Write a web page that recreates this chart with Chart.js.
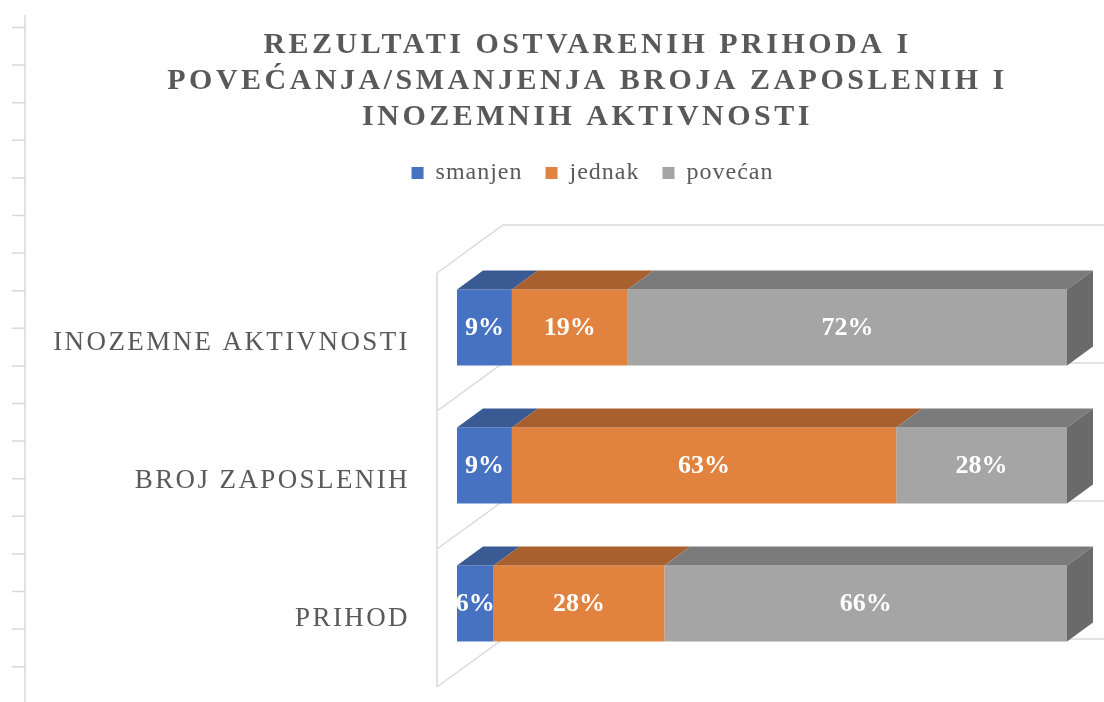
<!DOCTYPE html>
<html lang="hr">
<head>
<meta charset="UTF-8">
<title>Rezultati ostvarenih prihoda</title>
<script src="https://cdn.jsdelivr.net/npm/chart.js@4.4.1/dist/chart.umd.min.js"></script>
<style>
  html, body { margin: 0; padding: 0; background: #fff; overflow: hidden; }
  #wrap { position: relative; width: 1104px; height: 702px; }
</style>
</head>
<body>
<div id="wrap"><canvas id="myChart"></canvas></div>

<script>
// podaci
const categories = ['INOZEMNE AKTIVNOSTI', 'BROJ ZAPOSLENIH', 'PRIHOD'];
const seriesNames = ['smanjen', 'jednak', 'povećan'];
const smanjen = [9, 9, 6];
const jednak = [19, 63, 28];
const povecan = [72, 28, 66];
const titleLines = [
  'REZULTATI OSTVARENIH PRIHODA I',
  'POVEĆANJA/SMANJENJA BROJA ZAPOSLENIH I',
  'INOZEMNIH AKTIVNOSTI'
];

const SERIF = '"Liberation Serif", "Times New Roman", serif';
const TEXT_GRAY = '#595959';
const LINE_GRAY = '#d9d9d9';
const frontColors = ['#4672c1', '#e1823f', '#a5a5a5'];
const topColors = ['#3a5a94', '#a9602f', '#7b7b7b'];
const sideColors = ['#30497a', '#8c4f27', '#6a6a6a'];

// 3D pomaci (dubina stupca, prednja i straznja ravnina)
const BAR_DX = 26, BAR_DY = 19;
const FRONT_DX = -20, FRONT_DY = 14.5;
const BACK_DX = 46, BACK_DY = -33.5;

function poly(ctx, pts, color) {
  ctx.beginPath();
  ctx.moveTo(pts[0][0], pts[0][1]);
  for (let i = 1; i < pts.length; i++) ctx.lineTo(pts[i][0], pts[i][1]);
  ctx.closePath();
  ctx.fillStyle = color;
  ctx.fill();
}

const frame3d = {
  id: 'frame3d',
  beforeDraw(chart) {
    // ravnalo uz lijevi rub
    const ctx = chart.ctx;
    ctx.save();
    ctx.strokeStyle = LINE_GRAY;
    ctx.lineWidth = 1.5;
    ctx.beginPath();
    ctx.moveTo(25, 15);
    ctx.lineTo(25, chart.height);
    for (let y = 27.5; y < chart.height; y += 37.6) {
      ctx.moveTo(12, y);
      ctx.lineTo(25, y);
    }
    ctx.stroke();
    ctx.restore();
  },
  beforeDatasetsDraw(chart) {
    const ctx = chart.ctx;
    const {left, top, bottom} = chart.chartArea;
    const ys = chart.scales.y;
    const edges = [];
    for (let k = 0; k <= categories.length; k++) edges.push(ys.getPixelForValue(k - 0.5));

    ctx.save();
    ctx.strokeStyle = LINE_GRAY;
    ctx.lineWidth = 1.5;
    ctx.beginPath();
    ctx.moveTo(left + FRONT_DX, top + FRONT_DY);
    ctx.lineTo(left + FRONT_DX, bottom + FRONT_DY);
    edges.forEach(e => {
      ctx.moveTo(left + FRONT_DX, e + FRONT_DY);
      ctx.lineTo(left + BACK_DX, e + BACK_DY);
      ctx.lineTo(chart.width, e + BACK_DY);
    });
    ctx.stroke();
    ctx.restore();
  },
  afterDatasetsDraw(chart) {
    const ctx = chart.ctx;
    const n = chart.data.datasets.length;
    ctx.save();
    for (let d = 0; d < n; d++) {
      const meta = chart.getDatasetMeta(d);
      meta.data.forEach((el, j) => {
        const p = el.getProps(['x', 'y', 'base', 'height'], true);
        const x0 = Math.min(p.x, p.base), x1 = Math.max(p.x, p.base);
        const yt = p.y - p.height / 2, yb = p.y + p.height / 2;
        if (x1 - x0 <= 0) return;
        poly(ctx, [[x0, yt], [x1, yt], [x1 + BAR_DX, yt - BAR_DY], [x0 + BAR_DX, yt - BAR_DY]], topColors[d]);
        // bocna strana samo za zadnji segment
        let last = n - 1;
        while (last > 0 && !chart.data.datasets[last].data[j]) last--;
        if (d === last) {
          poly(ctx, [[x1, yt], [x1 + BAR_DX, yt - BAR_DY], [x1 + BAR_DX, yb - BAR_DY], [x1, yb]], sideColors[d]);
        }
      });
    }
    // oznake vrijednosti
    ctx.font = 'bold 26px ' + SERIF;
    ctx.fillStyle = '#ffffff';
    ctx.textAlign = 'center';
    ctx.textBaseline = 'middle';
    for (let d = 0; d < n; d++) {
      const meta = chart.getDatasetMeta(d);
      meta.data.forEach((el, j) => {
        const v = chart.data.datasets[d].data[j];
        if (!v) return;
        const p = el.getProps(['x', 'y', 'base'], true);
        ctx.fillText(v + '%', (p.x + p.base) / 2, p.y + 1);
      });
    }
    ctx.restore();
  }
};

const ctx = document.getElementById('myChart').getContext('2d');

const myChart = new Chart(ctx, {
  type: 'bar',
  data: {
    labels: categories,
    datasets: [
      { label: seriesNames[0], data: smanjen, backgroundColor: frontColors[0] },
      { label: seriesNames[1], data: jednak, backgroundColor: frontColors[1] },
      { label: seriesNames[2], data: povecan, backgroundColor: frontColors[2] }
    ]
  },
  options: {
    indexAxis: 'y',
    responsive: true,
    maintainAspectRatio: false,
    animation: false,
    categoryPercentage: 0.55,
    barPercentage: 1,
    borderWidth: 0,
    layout: { padding: { top: 0, left: 108, right: 37, bottom: 29.5 } },
    scales: {
      x: {
        position: 'top',
        stacked: true,
        min: 0,
        max: 100,
        ticks: { display: false },
        grid: { display: false, drawTicks: false },
        border: { display: false },
        afterFit(scale) { scale.height = 63.5; }
      },
      y: {
        stacked: true,
        grid: { display: false, drawTicks: false },
        border: { display: false },
        ticks: {
          font: { family: SERIF, size: 27 },
          color: TEXT_GRAY,
          padding: 47,
          labelOffset: 15
        },
        afterFit(scale) {
          scale.width = 349;
          scale.paddingTop = 0;
          scale.paddingBottom = 0;
        }
      }
    },
    plugins: {
      tooltip: { enabled: false },
      title: {
        display: true,
        text: titleLines,
        color: TEXT_GRAY,
        font: { family: SERIF, size: 30, weight: 'bold', lineHeight: 1.2 },
        padding: { top: 27.5, bottom: 2.5 }
      },
      legend: {
        display: true,
        labels: {
          boxWidth: 12,
          boxHeight: 12,
          padding: 23,
          color: TEXT_GRAY,
          font: { family: SERIF, size: 24 }
        }
      }
    }
  },
  plugins: [frame3d]
});

// razmak slova za naslov, legendu i kategorije
function withSpacing(obj, name, ls, dx) {
  if (!obj || !obj[name]) return;
  const orig = obj[name];
  obj[name] = function (...args) {
    const c = this.ctx;
    c.save();
    c.letterSpacing = ls;
    if (dx) c.translate(dx, 0);
    const r = orig.apply(this, args);
    c.restore();
    return r;
  };
}
withSpacing(myChart.titleBlock, 'draw', '3.5px');
withSpacing(myChart.legend, 'draw', '1px', 5);
withSpacing(myChart.legend, 'fit', '1px');
withSpacing(myChart.scales.y, 'drawLabels', '2.4px');
// oznake kategorija smiju izaci lijevo od osi
myChart.scales.y._computeLabelArea = () => undefined;
myChart.update();
</script>

</body>
</html>
